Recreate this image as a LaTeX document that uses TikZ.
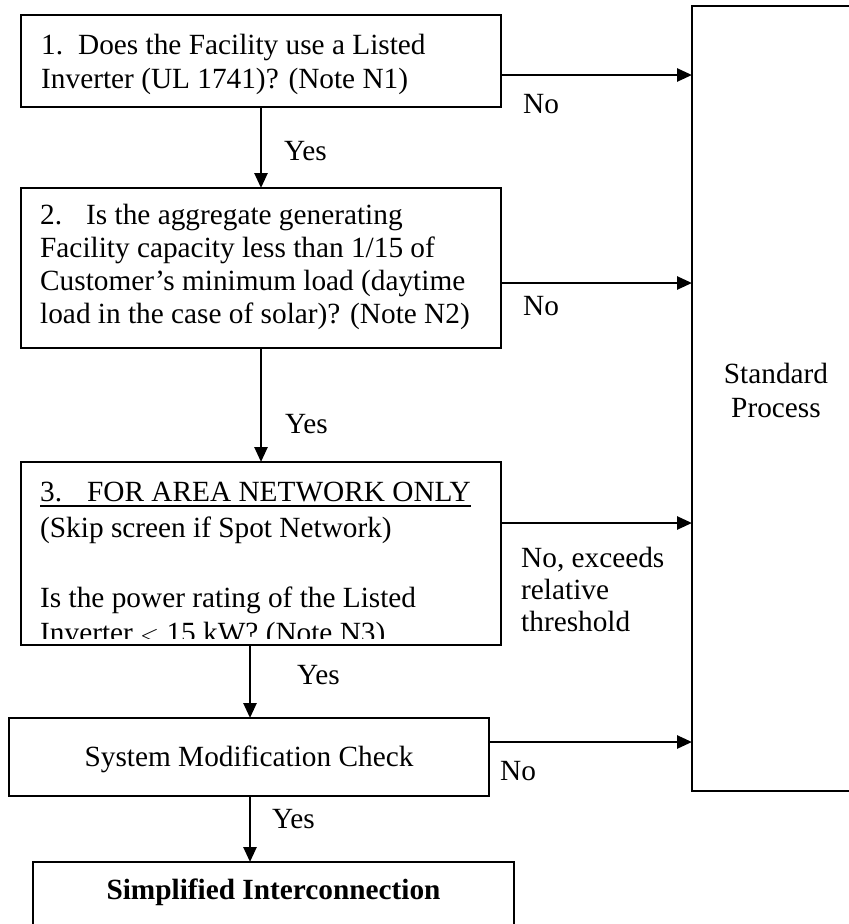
\documentclass[tikz,border=0pt]{standalone}
\usepackage{fontspec}
\setmainfont{Liberation Serif}
\usetikzlibrary{arrows.meta}
\tikzset{
  box/.style={draw, line width=2pt, anchor=north west, inner sep=0pt, outer sep=0pt},
  txt/.style={anchor=base west, inner sep=0pt, font=\fontsize{29.3}{34}\selectfont},
  ctxt/.style={anchor=base, inner sep=0pt, font=\fontsize{29.3}{34}\selectfont},
  arr/.style={line width=2.6pt, -{Triangle[length=15pt,width=13pt]}},
}
\begin{document}
\begin{tikzpicture}[x=1pt,y=-1pt]
\useasboundingbox (0,0) rectangle (849,924);
\clip (0,0) rectangle (849,924);
% boxes
\node[box, minimum width=480pt, minimum height=92pt]  (b1) at (21,15) {};
\node[box, minimum width=480pt, minimum height=160pt] (b2) at (21,188) {};
\node[box, minimum width=480pt, minimum height=183pt] (b3) at (21,462) {};
\node[box, minimum width=480pt, minimum height=78pt]  (b4) at (9,718) {};
\node[box, minimum width=481pt, minimum height=90pt]  (b5) at (33,862) {};
\node[box, minimum width=170pt, minimum height=785pt] (sp) at (692,6) {};
% box texts
\node[txt] (t11) at (41,54) {1.\hspace{15pt}Does the Facility use a Listed};
\node[txt] (t12) at (41,88) {Inverter (UL 1741)? (Note N1)};
\node[txt] (t21) at (40,224) {2.\hspace{24pt}Is the aggregate generating};
\node[txt] (t22) at (40,257) {Facility capacity less than 1/15 of};
\node[txt] (t23) at (40,290) {Customer’s minimum load (daytime};
\node[txt] (t24) at (40,323) {load in the case of solar)? (Note N2)};
\begin{scope}
\clip (21,462) rectangle (501,638);
\node[txt] (t31) at (40,501) {3.\hspace{25pt}FOR AREA NETWORK ONLY};
\node[txt] (t32) at (40,537) {(Skip screen if Spot Network)};
\node[txt] (t33) at (40,607) {Is the power rating of the Listed};
\node[txt] (t34) at (40,642) {Inverter $<$ 15 kW? (Note N3)};
\end{scope}
\draw[line width=1.4pt] (t31.base west) ++(0,5) coordinate (u1) -- (u1 -| t31.east);
\node[ctxt] (t4) at (b4.center |- 0,766) {System Modification Check};
\node[ctxt] (t5) at (b5.center |- 0,899) {\bfseries Simplified Interconnection};
\node[ctxt] (ts1) at (776,383) {Standard};
\node[ctxt] (ts2) at (776,417) {Process};
% arrows to standard process
\coordinate (h1) at (0,75);
\coordinate (h2) at (0,283);
\coordinate (h3) at (0,523);
\coordinate (h4) at (0,742);
\draw[arr] (b1.east |- h1) -- (sp.west |- h1);
\draw[arr] (b2.east |- h2) -- (sp.west |- h2);
\draw[arr] (b3.east |- h3) -- (sp.west |- h3);
\draw[arr] (b4.east |- h4) -- (sp.west |- h4);
% vertical arrows
\coordinate (v1) at (261,0);
\coordinate (v2) at (250,0);
\draw[arr] (b1.south -| v1) -- (b2.north -| v1);
\draw[arr] (b2.south -| v1) -- (b3.north -| v1);
\draw[arr] (b3.south -| v2) -- (b4.north -| v2);
\draw[arr] (b4.south -| v2) -- (b5.north -| v2);
% labels
\node[txt] (n1) at (523,113) {No};
\node[txt] (y1) at (284,160) {Yes};
\node[txt] (n2) at (523,315) {No};
\node[txt] (y2) at (285,433) {Yes};
\node[txt] (n3a) at (521,567) {No, exceeds};
\node[txt] (n3b) at (521,599) {relative};
\node[txt] (n3c) at (521,631) {threshold};
\node[txt] (y3) at (297,684) {Yes};
\node[txt] (n4) at (500,780) {No};
\node[txt] (y4) at (272,828) {Yes};
\end{tikzpicture}
\end{document}
